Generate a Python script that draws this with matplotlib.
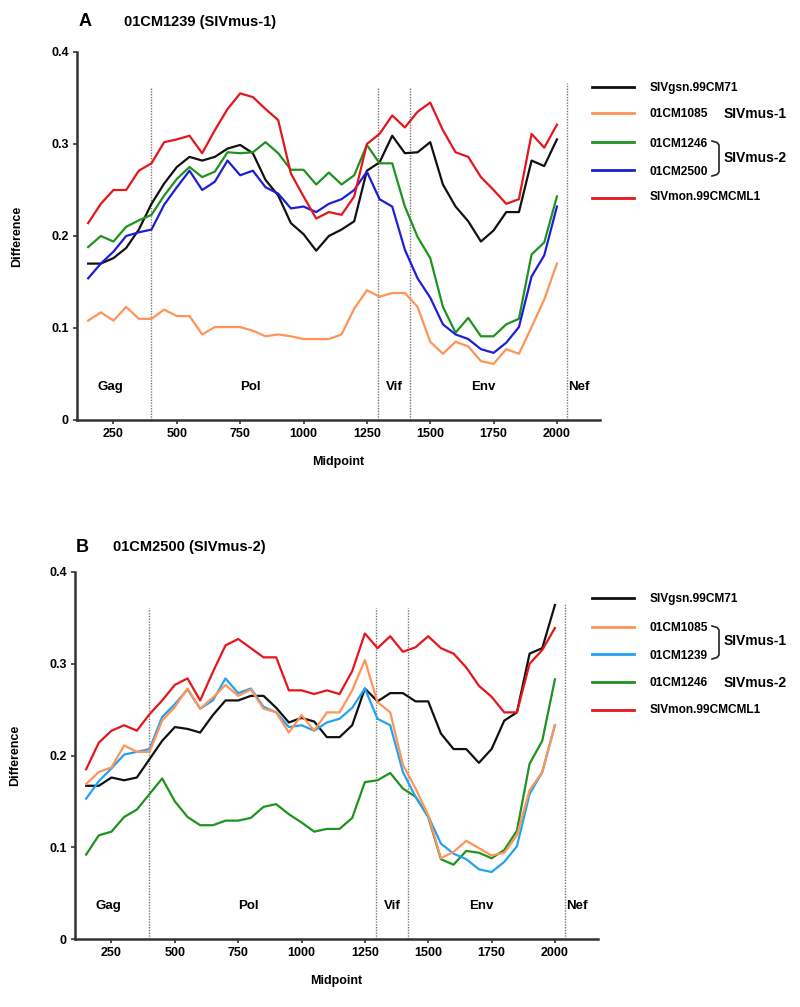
import matplotlib
matplotlib.use("Agg")
import matplotlib.pyplot as plt
from matplotlib.lines import Line2D

plt.rcParams['font.family'] = ['Liberation Sans', 'DejaVu Sans']
plt.rcParams['font.weight'] = 'bold'

midpoints = [150, 200, 250, 300, 350, 400, 450, 500, 550, 600, 650, 700, 750, 800,
             850, 900, 950, 1000, 1050, 1100, 1150, 1200, 1250, 1300, 1350, 1400,
             1450, 1500, 1550, 1600, 1650, 1700, 1750, 1800, 1850, 1900, 1950, 2000]

# Panel A: query 01CM1239 (SIVmus-1)
a_gsn = [0.170, 0.170, 0.176, 0.187, 0.207, 0.235, 0.257, 0.275, 0.286, 0.282, 0.286, 0.295,
         0.299, 0.290, 0.261, 0.244, 0.214, 0.202, 0.184, 0.200, 0.207, 0.216, 0.271, 0.280,
         0.309, 0.290, 0.291, 0.302, 0.256, 0.232, 0.216, 0.194, 0.206, 0.226, 0.226, 0.282,
         0.276, 0.305]
a_1085 = [0.108, 0.117, 0.108, 0.123, 0.110, 0.110, 0.120, 0.113, 0.113, 0.093, 0.101, 0.101,
          0.101, 0.097, 0.091, 0.093, 0.091, 0.088, 0.088, 0.088, 0.093, 0.121, 0.141, 0.134,
          0.138, 0.138, 0.123, 0.085, 0.072, 0.085, 0.080, 0.064, 0.061, 0.077, 0.072, 0.101,
          0.131, 0.170]
a_1246 = [0.188, 0.200, 0.194, 0.210, 0.217, 0.223, 0.244, 0.262, 0.275, 0.264, 0.270, 0.291,
          0.290, 0.291, 0.302, 0.290, 0.272, 0.272, 0.256, 0.269, 0.256, 0.266, 0.299, 0.279,
          0.279, 0.232, 0.199, 0.176, 0.123, 0.095, 0.111, 0.091, 0.091, 0.104, 0.110, 0.180,
          0.193, 0.243]
a_2500 = [0.154, 0.170, 0.183, 0.200, 0.204, 0.207, 0.234, 0.253, 0.271, 0.250, 0.259, 0.282,
          0.266, 0.271, 0.253, 0.246, 0.230, 0.232, 0.226, 0.235, 0.240, 0.250, 0.270, 0.240,
          0.232, 0.185, 0.154, 0.133, 0.104, 0.093, 0.088, 0.077, 0.073, 0.084, 0.101, 0.156,
          0.179, 0.232]
a_mon = [0.214, 0.235, 0.250, 0.250, 0.271, 0.279, 0.302, 0.305, 0.309, 0.290, 0.315, 0.338,
         0.355, 0.351, 0.338, 0.326, 0.268, 0.243, 0.219, 0.226, 0.223, 0.243, 0.300, 0.311,
         0.331, 0.318, 0.335, 0.345, 0.315, 0.291, 0.286, 0.264, 0.250, 0.235, 0.240, 0.311,
         0.296, 0.321]

# Panel B: query 01CM2500 (SIVmus-2)
b_gsn = [0.167, 0.167, 0.176, 0.173, 0.176, 0.196, 0.216, 0.231, 0.229, 0.225, 0.244, 0.260,
         0.260, 0.265, 0.265, 0.252, 0.236, 0.241, 0.237, 0.220, 0.220, 0.233, 0.273, 0.259,
         0.268, 0.268, 0.259, 0.259, 0.224, 0.207, 0.207, 0.192, 0.207, 0.238, 0.247, 0.311,
         0.317, 0.364]
b_1085 = [0.169, 0.182, 0.187, 0.211, 0.204, 0.204, 0.238, 0.253, 0.273, 0.251, 0.263, 0.277,
          0.265, 0.272, 0.251, 0.247, 0.225, 0.244, 0.227, 0.247, 0.247, 0.271, 0.304, 0.258,
          0.247, 0.190, 0.164, 0.135, 0.088, 0.095, 0.107, 0.099, 0.091, 0.094, 0.113, 0.162,
          0.182, 0.233]
b_1239 = [0.153, 0.172, 0.186, 0.201, 0.204, 0.207, 0.242, 0.256, 0.272, 0.251, 0.260, 0.284,
          0.268, 0.273, 0.253, 0.247, 0.231, 0.233, 0.227, 0.236, 0.240, 0.252, 0.273, 0.240,
          0.233, 0.182, 0.155, 0.134, 0.104, 0.093, 0.087, 0.076, 0.073, 0.084, 0.101, 0.158,
          0.182, 0.233]
b_1246 = [0.092, 0.113, 0.117, 0.133, 0.141, 0.158, 0.175, 0.150, 0.133, 0.124, 0.124, 0.129,
          0.129, 0.132, 0.144, 0.147, 0.136, 0.127, 0.117, 0.120, 0.120, 0.132, 0.171, 0.173,
          0.181, 0.164, 0.155, 0.133, 0.087, 0.081, 0.096, 0.094, 0.088, 0.097, 0.118, 0.191,
          0.216, 0.283]
b_mon = [0.185, 0.214, 0.227, 0.233, 0.227, 0.245, 0.260, 0.277, 0.284, 0.260, 0.291, 0.320,
         0.327, 0.317, 0.307, 0.307, 0.271, 0.271, 0.267, 0.271, 0.267, 0.292, 0.333, 0.317,
         0.330, 0.313, 0.318, 0.330, 0.317, 0.311, 0.296, 0.276, 0.264, 0.247, 0.247, 0.300,
         0.315, 0.339]

gene_bounds = [400, 1295, 1420]
nef_bound = 2040
gene_names = ["Gag", "Pol", "Vif", "Env", "Nef"]
gene_label_x = [237, 792, 1360, 1708, 2088]
x_ticks = [250, 500, 750, 1000, 1250, 1500, 1750, 2000]
y_ticks = [0, 0.1, 0.2, 0.3, 0.4]
y_ticklabels = ["0", "0.1", "0.2", "0.3", "0.4"]

C_BLACK = "#111111"
C_ORANGE = "#FF9358"
C_GREEN = "#1E931E"
C_BLUE = "#1E1ED8"
C_LBLUE = "#23A2F2"
C_RED = "#E4161C"

W, H = 800, 1007
fig = plt.figure(figsize=(W / 100, H / 100), dpi=100)


def fx(px):
    return px / W


def fy(py):
    return 1 - py / H


def style_axes(ax):
    ax.set_xlim(106, 2170)
    ax.set_ylim(0, 0.4)
    for s in ["top", "right"]:
        ax.spines[s].set_visible(False)
    for s in ["left", "bottom"]:
        ax.spines[s].set_linewidth(1.8)
        ax.spines[s].set_color("#333333")
    ax.set_xticks(x_ticks)
    ax.set_yticks(y_ticks)
    ax.set_yticklabels(y_ticklabels)
    ax.tick_params(axis="both", direction="out", length=3, width=1.2, color="#333333",
                   labelsize=9, pad=3)
    for lab in ax.get_xticklabels() + ax.get_yticklabels():
        lab.set_fontweight("bold")
    ax.set_xlabel("Midpoint", fontsize=9, fontweight="bold", labelpad=11)
    ax.set_ylabel("Difference", fontsize=9, fontweight="bold", labelpad=20)
    for xb in gene_bounds:
        ax.plot([xb, xb], [0, 0.361], color="#777777", lw=1.0, ls=(0, (1, 1)))
    ax.plot([nef_bound, nef_bound], [0, 0.366], color="#777777", lw=1.0, ls=(0, (1, 1)))
    for name, gx in zip(gene_names, gene_label_x):
        ax.text(gx, 0.036, name, ha="center", va="center", fontsize=9.5, fontweight="bold")


def legend_line(py, color):
    fig.add_artist(Line2D([fx(592), fx(634)], [fy(py), fy(py)], color=color, lw=2.0,
                          transform=fig.transFigure))


def legend_text(px, py, s, size=8.6):
    fig.text(fx(px), fy(py), s, ha="left", va="center", fontsize=size, fontweight="bold")


def bracket(py_top, py_bot):
    xs = [fx(712), fx(717), fx(719), fx(719), fx(717), fx(712)]
    ys = [fy(py_top), fy(py_top + 1.5), fy(py_top + 4), fy(py_bot - 4), fy(py_bot - 1.5), fy(py_bot)]
    fig.add_artist(Line2D(xs, ys, color="#222222", lw=1.2, transform=fig.transFigure))


# ---------------- Panel A ----------------
axA = fig.add_axes([fx(77), fy(420), (600 - 77) / W, (420 - 52) / H])
style_axes(axA)
axA.plot(midpoints, a_1085, color=C_ORANGE, lw=1.6)
axA.plot(midpoints, a_gsn, color=C_BLACK, lw=1.6)
axA.plot(midpoints, a_1246, color=C_GREEN, lw=1.6)
axA.plot(midpoints, a_2500, color=C_BLUE, lw=1.6)
axA.plot(midpoints, a_mon, color=C_RED, lw=1.6)

fig.text(fx(85), fy(22), "A", ha="center", va="center", fontsize=13, fontweight="bold")
fig.text(fx(124), fy(22), "01CM1239 (SIVmus-1)", ha="left", va="center", fontsize=10.5,
         fontweight="bold")

legend_line(87, C_BLACK)
legend_text(650, 88, "SIVgsn.99CM71")
legend_line(113, C_ORANGE)
legend_text(650, 114, "01CM1085")
legend_text(724, 114, "SIVmus-1", size=10)
legend_line(142, C_GREEN)
legend_text(650, 144, "01CM1246")
legend_line(170, C_BLUE)
legend_text(650, 172, "01CM2500")
bracket(141, 176)
legend_text(724, 158, "SIVmus-2", size=10)
legend_line(198, C_RED)
legend_text(650, 197, "SIVmon.99CMCML1")

# ---------------- Panel B ----------------
axB = fig.add_axes([fx(75), fy(939), (598 - 75) / W, (939 - 572) / H])
style_axes(axB)
axB.plot(midpoints, b_gsn, color=C_BLACK, lw=1.6)
axB.plot(midpoints, b_1246, color=C_GREEN, lw=1.6)
axB.plot(midpoints, b_1239, color=C_LBLUE, lw=1.6)
axB.plot(midpoints, b_1085, color=C_ORANGE, lw=1.6)
axB.plot(midpoints, b_mon, color=C_RED, lw=1.6)

fig.text(fx(82), fy(547), "B", ha="center", va="center", fontsize=13, fontweight="bold")
fig.text(fx(113), fy(547), "01CM2500 (SIVmus-2)", ha="left", va="center", fontsize=10.5,
         fontweight="bold")

legend_line(598, C_BLACK)
legend_text(650, 599, "SIVgsn.99CM71")
legend_line(627, C_ORANGE)
legend_text(650, 628, "01CM1085")
legend_line(654, C_LBLUE)
legend_text(650, 656, "01CM1239")
bracket(626, 659)
legend_text(724, 641, "SIVmus-1", size=10)
legend_line(682, C_GREEN)
legend_text(650, 683, "01CM1246")
legend_text(724, 683, "SIVmus-2", size=10)
legend_line(710, C_RED)
legend_text(650, 710, "SIVmon.99CMCML1")

fig.savefig("out.png", dpi=100)
